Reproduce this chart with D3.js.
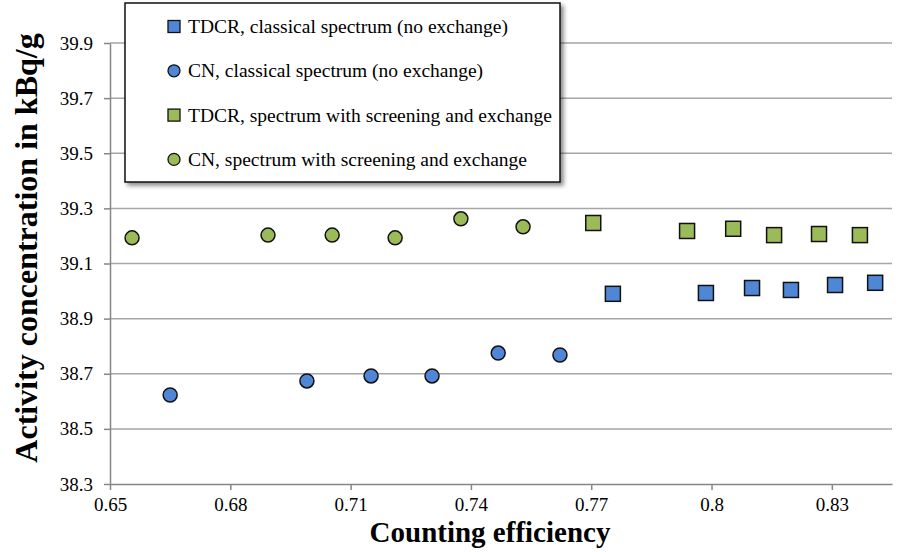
<!DOCTYPE html>
<html>
<head>
<meta charset="utf-8">
<script src="https://cdn.jsdelivr.net/npm/d3@7"></script>
<style>
  body { margin: 0; background: #fff; }
  svg { font-family: "Liberation Serif", "Times New Roman", serif; }
</style>
</head>
<body>
<div id="chart"></div>
<script>
// series: counting efficiency (x) and activity concentration (y)
const tdcrClassicX = [0.7754, 0.7986, 0.8101, 0.8198, 0.8308, 0.8408];
const tdcrClassicY = [38.990, 38.993, 39.011, 39.004, 39.022, 39.030];
const cnClassicX = [0.665, 0.6991, 0.7151, 0.7303, 0.7468, 0.7622];
const cnClassicY = [38.623, 38.674, 38.692, 38.692, 38.775, 38.768];
const tdcrExchX = [0.7705, 0.7939, 0.8054, 0.8156, 0.8268, 0.8370];
const tdcrExchY = [39.247, 39.218, 39.226, 39.203, 39.207, 39.203];
const cnExchX = [0.6555, 0.6894, 0.7054, 0.7211, 0.7375, 0.7530];
const cnExchY = [39.193, 39.203, 39.203, 39.193, 39.262, 39.233];

const xTicks = [0.65, 0.68, 0.71, 0.74, 0.77, 0.8, 0.83];
const yTicks = [38.3, 38.5, 38.7, 38.9, 39.1, 39.3, 39.5, 39.7, 39.9];

const seriesNames = [
  'TDCR, classical spectrum (no exchange)',
  'CN, classical spectrum (no exchange)',
  'TDCR, spectrum with screening and exchange',
  'CN, spectrum with screening and exchange'
];

let w = 900, h = 552;
let padLeft = 110, padRight = 892, padTop = 43, padBottom = 484;
const blue = '#4f87d6';
const green = '#9bbb59';
const serif = '"Liberation Serif", "Times New Roman", serif';

let svg = d3.select('#chart').append('svg')
  .attr('width', w)
  .attr('height', h);

let x = d3.scaleLinear().domain([0.65, 0.845]).range([padLeft, padRight]);
let y = d3.scaleLinear().domain([38.3, 39.9]).range([padBottom, padTop]);

// gridlines
svg.append('g')
  .selectAll('line')
  .data(yTicks.slice(1))
  .enter().append('line')
  .attr('x1', padLeft).attr('x2', padRight)
  .attr('y1', d => y(d)).attr('y2', d => y(d))
  .attr('stroke', '#a6a6a6')
  .attr('stroke-width', 1.5);

let xAxis = svg.append('g')
  .attr('transform', 'translate(0,' + y(38.3) + ')')
  .call(d3.axisBottom(x).tickValues(xTicks).tickSize(6).tickSizeOuter(0).tickFormat(d => String(+d.toFixed(2))));

let yAxis = svg.append('g')
  .attr('transform', 'translate(' + padLeft + ',0)')
  .call(d3.axisLeft(y).tickValues(yTicks).tickSize(6).tickSizeOuter(0).tickFormat(d3.format('.1f')));

[xAxis, yAxis].forEach(a => {
  a.attr('font-family', serif).attr('font-size', 19);
  a.select('.domain').attr('stroke', '#868686').attr('stroke-width', 1.5);
  a.selectAll('.tick line').attr('stroke', '#868686').attr('stroke-width', 1.5);
  a.selectAll('.tick text').attr('fill', '#000');
});
xAxis.selectAll('.tick text').attr('y', 14);
yAxis.selectAll('.tick text').attr('x', -17);

// axis titles
svg.append('text')
  .text('Counting efficiency')
  .attr('x', 490).attr('y', 542)
  .attr('text-anchor', 'middle')
  .style('font-weight', 'bold')
  .style('font-size', '29px');

svg.append('text')
  .text('Activity concentration in kBq/g')
  .attr('transform', 'translate(37,248) rotate(-90)')
  .attr('text-anchor', 'middle')
  .style('font-weight', 'bold')
  .style('font-size', '32px');

function squares(xs, ys, color) {
  svg.append('g').selectAll('rect')
    .data(xs)
    .enter().append('rect')
    .attr('x', d => x(d) - 7.5)
    .attr('y', (d, i) => y(ys[i]) - 7.5)
    .attr('width', 15).attr('height', 15)
    .attr('fill', color)
    .attr('stroke', '#111')
    .attr('stroke-width', 1.5);
}

function circles(xs, ys, color) {
  svg.append('g').selectAll('circle')
    .data(xs)
    .enter().append('circle')
    .attr('cx', d => x(d))
    .attr('cy', (d, i) => y(ys[i]))
    .attr('r', 7)
    .attr('fill', color)
    .attr('stroke', '#111')
    .attr('stroke-width', 1.5);
}

squares(tdcrClassicX, tdcrClassicY, blue);
circles(cnClassicX, cnClassicY, blue);
squares(tdcrExchX, tdcrExchY, green);
circles(cnExchX, cnExchY, green);

// legend
let defs = svg.append('defs');
let filt = defs.append('filter').attr('id', 'shadow').attr('x', '-5%').attr('y', '-5%').attr('width', '115%').attr('height', '120%');
filt.append('feDropShadow').attr('dx', 3).attr('dy', 3).attr('stdDeviation', 2).attr('flood-color', '#000').attr('flood-opacity', 0.45);

let lg = svg.append('g');
lg.append('rect')
  .attr('x', 125).attr('y', 3)
  .attr('width', 435).attr('height', 179)
  .attr('fill', '#fff')
  .attr('stroke', '#111')
  .attr('stroke-width', 1.5)
  .attr('filter', 'url(#shadow)');

const legendColors = [blue, blue, green, green];
const legendShapes = ['square', 'circle', 'square', 'circle'];
seriesNames.forEach((name, i) => {
  let cy = 26.5 + i * 44.3;
  if (legendShapes[i] === 'square') {
    lg.append('rect')
      .attr('x', 168).attr('y', cy - 6)
      .attr('width', 12).attr('height', 12)
      .attr('fill', legendColors[i])
      .attr('stroke', '#111').attr('stroke-width', 1.3);
  } else {
    lg.append('circle')
      .attr('cx', 174).attr('cy', cy)
      .attr('r', 6)
      .attr('fill', legendColors[i])
      .attr('stroke', '#111').attr('stroke-width', 1.3);
  }
  lg.append('text')
    .text(name)
    .attr('x', 188).attr('y', cy + 6.5)
    .style('font-size', '19.5px');
});
</script>
</body>
</html>
